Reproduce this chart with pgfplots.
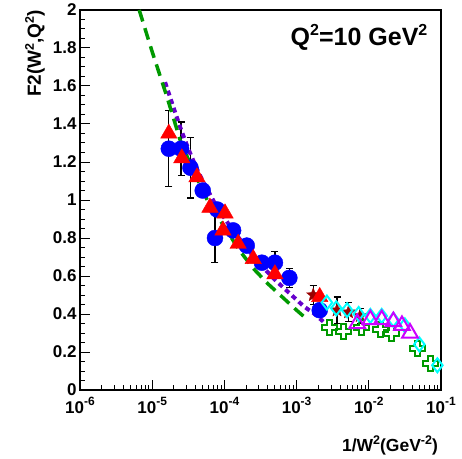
\documentclass[border=0pt]{standalone}
\usepackage{fontspec}
\setmainfont{Liberation Sans}
\usepackage{pgfplots}
\pgfplotsset{compat=1.18}
\definecolor{cblue}{RGB}{0,0,255}
\definecolor{cred}{RGB}{255,0,0}
\definecolor{cdred}{RGB}{153,0,0}
\definecolor{ccyan}{RGB}{0,255,255}
\definecolor{cmag}{RGB}{204,0,255}
\definecolor{cpurp}{RGB}{102,0,204}
\definecolor{cgreen}{RGB}{0,153,0}
\pgfdeclareplotmark{ocross}{%
  \pgfmathsetlengthmacro\mka{0.34*\pgfplotmarksize}%
  \pgfmathsetlengthmacro\mkb{\pgfplotmarksize}%
  \pgfpathmoveto{\pgfpoint{\mka}{\mkb}}%
  \pgfpathlineto{\pgfpoint{\mka}{\mka}}%
  \pgfpathlineto{\pgfpoint{\mkb}{\mka}}%
  \pgfpathlineto{\pgfpoint{\mkb}{-\mka}}%
  \pgfpathlineto{\pgfpoint{\mka}{-\mka}}%
  \pgfpathlineto{\pgfpoint{\mka}{-\mkb}}%
  \pgfpathlineto{\pgfpoint{-\mka}{-\mkb}}%
  \pgfpathlineto{\pgfpoint{-\mka}{-\mka}}%
  \pgfpathlineto{\pgfpoint{-\mkb}{-\mka}}%
  \pgfpathlineto{\pgfpoint{-\mkb}{\mka}}%
  \pgfpathlineto{\pgfpoint{-\mka}{\mka}}%
  \pgfpathlineto{\pgfpoint{-\mka}{\mkb}}%
  \pgfpathclose\pgfusepathqstroke}
\pgfdeclareplotmark{fstar}{%
  \pgfpathmoveto{\pgfpointpolar{90}{\pgfplotmarksize}}%
  \pgfpathlineto{\pgfpointpolar{126}{0.42\pgfplotmarksize}}%
  \pgfpathlineto{\pgfpointpolar{162}{\pgfplotmarksize}}%
  \pgfpathlineto{\pgfpointpolar{198}{0.42\pgfplotmarksize}}%
  \pgfpathlineto{\pgfpointpolar{234}{\pgfplotmarksize}}%
  \pgfpathlineto{\pgfpointpolar{270}{0.42\pgfplotmarksize}}%
  \pgfpathlineto{\pgfpointpolar{306}{\pgfplotmarksize}}%
  \pgfpathlineto{\pgfpointpolar{342}{0.42\pgfplotmarksize}}%
  \pgfpathlineto{\pgfpointpolar{18}{\pgfplotmarksize}}%
  \pgfpathlineto{\pgfpointpolar{54}{0.42\pgfplotmarksize}}%
  \pgfpathclose\pgfusepathqfillstroke}
\newcommand\tp[1]{10\raisebox{7.5pt}{\fontsize{12}{12}\selectfont\bfseries #1}}
\newcommand\sps[1]{\raisebox{7pt}{\fontsize{12.5}{12.5}\selectfont\bfseries #1}}

\pgfplotstableread{
x y e
1.70e-5 1.27 0.20
2.51e-5 1.27 0.14
3.39e-5 1.17 0.16
5.01e-5 1.05 0
7.94e-5 0.95 0
7.41e-5 0.80 0.13
1.32e-4 0.84 0
2.04e-4 0.76 0
3.31e-4 0.67 0
5.01e-4 0.67 0.06
7.94e-4 0.59 0.05
2.09e-3 0.42 0
}\blue
\pgfplotstableread{
x y
1.70e-5 1.35
2.57e-5 1.22
4.17e-5 1.12
6.31e-5 0.96
1.02e-4 0.93
9.55e-5 0.84
1.55e-4 0.77
2.51e-4 0.69
5.01e-4 0.61
2.09e-3 0.49
}\red
\pgfplotstableread{
x y e
1.70e-3 0.50 0.05
3.63e-3 0.42 0.07
5.25e-3 0.41 0.05
7.59e-3 0.39 0.04
}\star
\pgfplotstableread{
x y
2.63e-3 0.46
3.55e-3 0.43
5.01e-3 0.42
7.24e-3 0.40
1.05e-2 0.39
1.51e-2 0.39
2.19e-2 0.37
3.16e-2 0.34
5.01e-2 0.24
8.91e-2 0.13
}\cyand
\pgfplotstableread{
x y
6.92e-3 0.35
1.05e-2 0.37
1.51e-2 0.37
2.19e-2 0.36
2.88e-2 0.34
3.72e-2 0.30
}\magt
\pgfplotstableread{
x y
2.88e-3 0.33
4.47e-3 0.31
7.94e-3 0.33
1.45e-2 0.32
2.09e-2 0.30
4.68e-2 0.22
7.08e-2 0.14
}\gcross
\pgfplotstableread{
x y
6.61e-6 2.00
1.00e-5 1.78
1.58e-5 1.55
2.51e-5 1.30
3.98e-5 1.13
6.31e-5 0.97
1.00e-4 0.86
1.58e-4 0.74
2.51e-4 0.64
3.98e-4 0.56
6.31e-4 0.49
1.00e-3 0.42
1.32e-3 0.38
}\gcurve
\pgfplotstableread{
x y
1.51e-5 1.62
2.00e-5 1.48
2.51e-5 1.37
3.16e-5 1.27
3.98e-5 1.18
5.01e-5 1.10
6.31e-5 1.03
7.94e-5 0.96
1.26e-4 0.85
2.00e-4 0.75
3.16e-4 0.66
5.01e-4 0.58
7.94e-4 0.51
1.26e-3 0.44
1.78e-3 0.40
2.34e-3 0.36
}\pcurve

\begin{document}
\begin{tikzpicture}[x=1pt,y=1pt]
\useasboundingbox (0,0) rectangle (462,458);
\begin{axis}[
  at={(80pt,68pt)}, anchor=south west,
  width=361pt, height=380pt, scale only axis,
  xmode=log, xmin=1e-6, xmax=1e-1, ymin=0, ymax=2,
  xtick={1e-6,1e-5,1e-4,1e-3,1e-2,1e-1},
  xticklabels={\tp{-6},\tp{-5},\tp{-4},\tp{-3},\tp{-2},\tp{-1}},
  minor xtick={2e-6,3e-6,4e-6,5e-6,6e-6,7e-6,8e-6,9e-6,
    2e-5,3e-5,4e-5,5e-5,6e-5,7e-5,8e-5,9e-5,
    2e-4,3e-4,4e-4,5e-4,6e-4,7e-4,8e-4,9e-4,
    2e-3,3e-3,4e-3,5e-3,6e-3,7e-3,8e-3,9e-3,
    2e-2,3e-2,4e-2,5e-2,6e-2,7e-2,8e-2,9e-2},
  ytick={0,0.2,0.4,0.6,0.8,1,1.2,1.4,1.6,1.8,2},
  yticklabels={0,0.2,0.4,0.6,0.8,1,1.2,1.4,1.6,1.8,2},
  minor y tick num=3,
  tick align=inside, xtick pos=bottom, ytick pos=left,
  major tick length=10pt, minor tick length=5pt,
  every tick/.style={black, line width=1pt},
  axis line style={line width=1.5pt},
  tick label style={font=\fontsize{17}{17}\selectfont\bfseries},
  xticklabel style={yshift=-4pt},
  clip=false,
  xlabel={\fontsize{17.5}{17.5}\selectfont\bfseries 1/W\sps{2}(GeV\sps{-2})},
  xlabel style={at={(axis description cs:0.992,-0.145)}, anchor=east, inner sep=0pt},
  ylabel={\fontsize{19}{19}\selectfont\bfseries F2(W\sps{2},Q\sps{2})},
  ylabel style={at={(axis description cs:-0.125,1)}, anchor=east, inner sep=0pt},
]
% error bars
\addplot[only marks, mark=none, error bars/.cd, y dir=both, y explicit,
  error bar style={draw=black, solid, line width=1.3pt},
  error mark options={draw=black, rotate=90, mark size=3.5pt, line width=1.3pt}]
  table[x=x, y=y, y error=e] {\star};
\addplot[only marks, mark=fstar, mark size=7pt, draw=cdred, fill=cdred] table[x=x,y=y] {\star};
\addplot[only marks, mark=none, error bars/.cd, y dir=both, y explicit,
  error bar style={draw=black, solid, line width=1.3pt},
  error mark options={draw=black, rotate=90, mark size=3.5pt, line width=1.3pt}]
  table[x=x, y=y, y error=e] {\blue};
\addplot[only marks, mark=*, mark size=8pt, draw=cblue, fill=cblue] table[x=x,y=y] {\blue};
\addplot[only marks, mark=triangle*, mark size=9.5pt, draw=cred, fill=cred] table[x=x,y=y] {\red};
\addplot[only marks, mark=ocross, mark size=7.5pt, draw=cgreen, line width=2pt] table[x=x,y=y] {\gcross};
\addplot[only marks, mark=diamond, mark size=7pt, draw=ccyan, line width=2pt] table[x=x,y=y] {\cyand};
\addplot[only marks, mark=triangle, mark size=9pt, draw=cmag, line width=2pt] table[x=x,y=y] {\magt};
\addplot[no marks, draw=cpurp, line width=4pt, dash pattern=on 5pt off 4pt] table[x=x,y=y] {\pcurve};
\addplot[no marks, draw=cgreen, line width=3.5pt, dash pattern=on 12pt off 7pt] table[x=x,y=y] {\gcurve};
\node[anchor=center, font=\fontsize{25}{25}\selectfont\bfseries] at (axis description cs:0.773,0.929) {Q\raisebox{10pt}{\fontsize{16}{16}\selectfont 2}=10 GeV\raisebox{10pt}{\fontsize{16}{16}\selectfont 2}};
\end{axis}
\end{tikzpicture}
\end{document}
